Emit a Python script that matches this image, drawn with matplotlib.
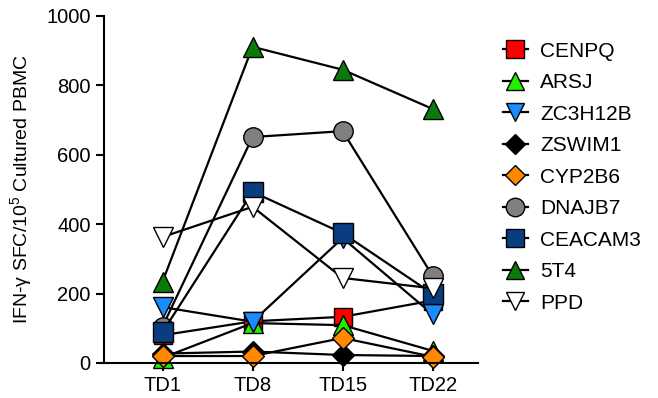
import matplotlib
matplotlib.use("Agg")
import matplotlib.pyplot as plt

plt.rcParams["font.family"] = ["Liberation Sans", "DejaVu Sans"]
plt.rcParams["mathtext.fontset"] = "custom"
plt.rcParams["mathtext.rm"] = "Liberation Sans"

days = ["TD1", "TD8", "TD15", "TD22"]

cenpq   = [80, 120, 133, 180]
arsj    = [15, 115, 109, 35]
zc3h12b = [161, 119, 360, 140]
zswim1  = [27, 33, 23, 20]
cyp2b6  = [20, 20, 72, 18]
dnajb7  = [105, 651, 668, 251]
ceacam3 = [89, 493, 374, 199]
t5t4    = [234, 911, 845, 732]
ppd     = [363, 450, 245, 215]

series = [
    ("CENPQ",   cenpq,   "s", "#ff0000", 13),
    ("ARSJ",    arsj,    "^", "#22ee00", 14),
    ("ZC3H12B", zc3h12b, "v", "#1a8cff", 14),
    ("ZSWIM1",  zswim1,  "D", "#000000", 11),
    ("CYP2B6",  cyp2b6,  "D", "#ff8800", 11),
    ("DNAJB7",  dnajb7,  "o", "#808080", 14),
    ("CEACAM3", ceacam3, "s", "#0a3d80", 14),
    ("5T4",     t5t4,    "^", "#0a7a0a", 14),
    ("PPD",     ppd,     "v", "#ffffff", 14),
]

fig = plt.figure(figsize=(6.58, 3.98), dpi=100)
ax = fig.add_axes([0.158, 0.088, 0.568, 0.872])

x = list(range(len(days)))
for name, vals, mk, col, ms in series:
    ax.plot(x, vals, color="black", lw=1.6, marker=mk, markersize=ms,
            markerfacecolor=col, markeredgecolor="black", markeredgewidth=1.0,
            label=name, clip_on=False)

ax.set_xlim(-0.65, 3.5)
ax.set_ylim(0, 1000)
ax.set_xticks(x)
ax.set_xticklabels(days)
ax.set_yticks([0, 200, 400, 600, 800, 1000])

for side in ("top", "right"): ax.spines[side].set_visible(False)
for side in ("left", "bottom"): ax.spines[side].set_linewidth(1.5)

ax.tick_params(direction="out", length=6, width=1.5, labelsize=14.5)
ax.set_ylabel("IFN-\u03b3 SFC/10$^5$ Cultured PBMC", fontsize=14, labelpad=8)

ax.legend(loc="upper left", bbox_to_anchor=(1.045, 0.95), frameon=False,
          fontsize=15, handlelength=1.2, handletextpad=0.6, labelspacing=0.6,
          borderaxespad=0.0, markerscale=0.95)

fig.savefig("out.png", dpi=100)
